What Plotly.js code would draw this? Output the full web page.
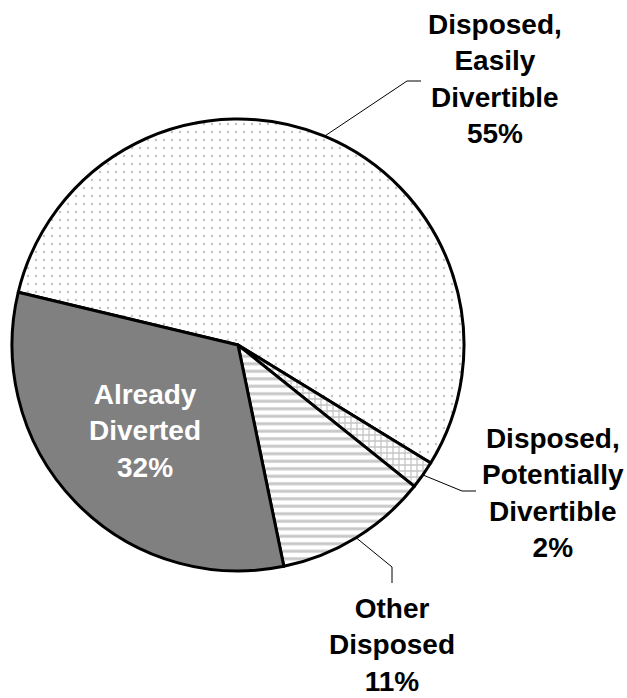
<!DOCTYPE html>
<html>
<head>
<meta charset="utf-8">
<script src="https://cdn.plot.ly/plotly-3.0.1.min.js"></script>
<style>
  html, body { margin: 0; padding: 0; background: #ffffff; }
  #chart { width: 627px; height: 698px; }
</style>
</head>
<body>
<div id="chart"></div>
<script>
// Waste stream breakdown (share of total, %)
const categories = [
  "Disposed,<br>Easily<br>Divertible",
  "Disposed,<br>Potentially<br>Divertible",
  "Other<br>Disposed",
  "Already<br>Diverted"
];
const shares = [55, 2, 11, 32];

// Slice fills
const fillColors = ["#ffffff", "#ffffff", "#ffffff", "#808080"];
const patternShapes = [".", "+", "-", ""];
const patternColors = ["#888888", "#8a8a8a", "#8f8f8f", "#808080"];
const patternSizes = [8, 6, 7.5, 8];
const patternSolidity = [0.08, 0.38, 0.4, 0.3];

// Label styling / placement (pixel positions of each label block centre)
const labelColors = ["#000000", "#000000", "#000000", "#ffffff"];
const labelPos = [[495, 79], [553, 493], [392, 645], [145, 431]];
// Leader line bends for labels that sit outside the pie (null = no leader)
const leaderBends = [
  [[407, 81], [421, 81]],
  [[462, 491], [476, 491]],
  [[392, 567], [392, 583]],
  null
];

const W = 627, H = 698;
const cx = 238, cy = 345, R = 226;
const rotation = 283.5;

const px2x = p => p / W;
const py2y = p => 1 - p / H;

// Point on the rim at the middle of slice i, using the same clockwise
// angle convention as the pie trace (0 deg = 12 o'clock).
function rimPoint(i) {
  const total = shares.reduce((a, b) => a + b, 0);
  let before = 0;
  for (let k = 0; k < i; k++) before += shares[k];
  const midDeg = rotation + (before + shares[i] / 2) / total * 360;
  const a = midDeg * Math.PI / 180;
  return [cx + R * Math.sin(a), cy - R * Math.cos(a)];
}

const annotations = categories.map((c, i) => ({
  text: c + "<br>" + shares[i] + "%",
  x: px2x(labelPos[i][0]),
  y: py2y(labelPos[i][1]),
  xref: "paper", yref: "paper",
  xanchor: "center", yanchor: "middle",
  showarrow: false,
  align: "center",
  font: { family: "Liberation Sans, Arial, sans-serif", size: 28, weight: "bold", color: labelColors[i] }
}));

const shapes = [];
leaderBends.forEach((bend, i) => {
  if (!bend) return;
  const pts = [rimPoint(i)].concat(bend);
  const path = pts.map((p, k) => (k ? "L" : "M") + px2x(p[0]) + "," + py2y(p[1])).join(" ");
  shapes.push({
    type: "path", xref: "paper", yref: "paper", path: path,
    line: { color: "#000000", width: 1 }
  });
});

const trace = {
  type: "pie",
  labels: categories,
  values: shares,
  sort: false,
  direction: "clockwise",
  rotation: rotation,
  textinfo: "none",
  hoverinfo: "label+percent",
  domain: {
    x: [(cx - R) / W, (cx + R) / W],
    y: [1 - (cy + R) / H, 1 - (cy - R) / H]
  },
  marker: {
    colors: fillColors,
    line: { color: "#000000", width: 3 },
    pattern: {
      shape: patternShapes,
      fgcolor: patternColors,
      bgcolor: fillColors,
      size: patternSizes,
      solidity: patternSolidity,
      fillmode: "overlay"
    }
  }
};

const layout = {
  width: W, height: H,
  margin: { l: 0, r: 0, t: 0, b: 0 },
  paper_bgcolor: "#ffffff",
  showlegend: false,
  annotations: annotations,
  shapes: shapes
};

Plotly.newPlot("chart", [trace], layout, { displayModeBar: false, staticPlot: true });
</script>
</body>
</html>
